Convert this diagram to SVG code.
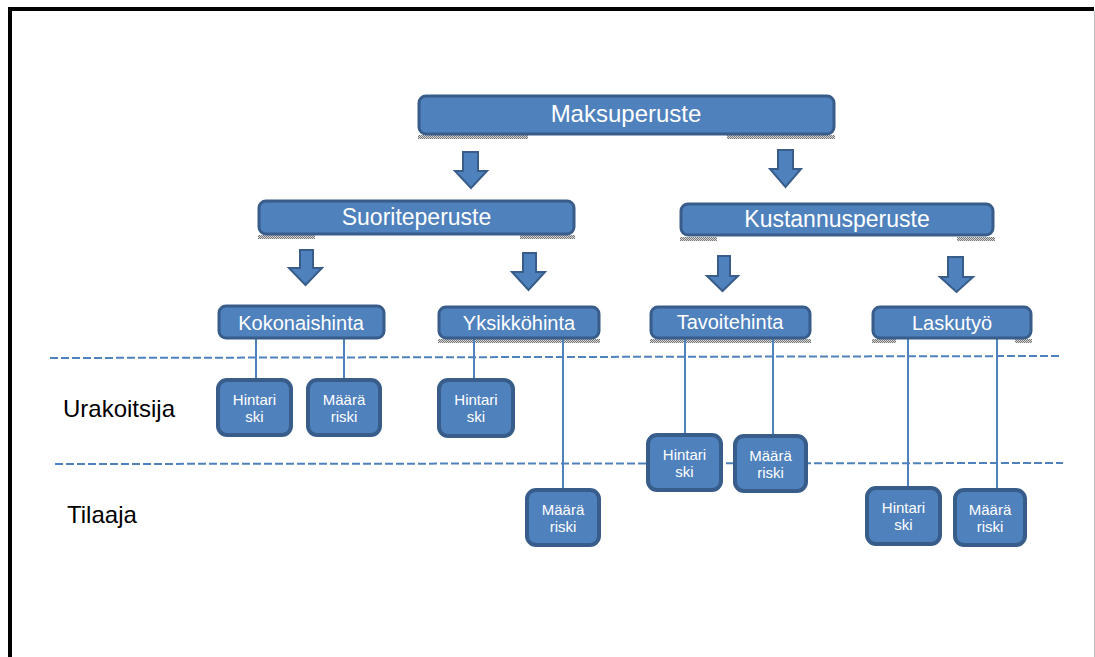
<svg xmlns="http://www.w3.org/2000/svg" width="1095" height="657" viewBox="0 0 1095 657">
<defs>
<pattern id="dots" width="2" height="2" patternUnits="userSpaceOnUse">
<rect width="2" height="2" fill="#d8d8d8"/>
<rect width="1" height="1" fill="#777"/>
<rect x="1" y="1" width="1" height="1" fill="#777"/>
</pattern>
</defs>
<style>
.box{fill:#4F81BD;stroke:#385D8A;stroke-width:3}
.sbox{fill:#4F81BD;stroke:#385D8A;stroke-width:4}
.arrow{fill:#4F81BD;stroke:#385D8A;stroke-width:2;stroke-linejoin:miter}
.conn{stroke:#4F81BD;stroke-width:2;fill:none}
.dash{stroke:#4F81BD;stroke-width:2;stroke-dasharray:8 3;fill:none}
.shadow{fill:url(#dots)}
text{font-family:"Liberation Sans",Arial,sans-serif;fill:#fff;text-anchor:middle}
.big{font-size:23px}
.mid{font-size:20px}
.sm{font-size:15px}
.lbl{fill:#000;text-anchor:start;font-size:24px}
</style>
<rect x="0" y="0" width="1095" height="657" fill="#fff"/>
<g id="frame">
<line x1="10" y1="9" x2="1094" y2="9" stroke="#000" stroke-width="4"/>
<line x1="10" y1="7" x2="10" y2="657" stroke="#000" stroke-width="4"/>
<line x1="1094.5" y1="11" x2="1094.5" y2="657" stroke="#bbb" stroke-width="1"/>
</g>
<g id="shadows">
<rect class="shadow" x="418" y="135" width="110" height="4"/>
<rect class="shadow" x="727" y="135" width="108" height="4"/>
<rect class="shadow" x="258" y="235" width="57" height="4"/>
<rect class="shadow" x="520" y="235" width="55" height="4"/>
<rect class="shadow" x="680" y="237" width="37" height="4"/>
<rect class="shadow" x="957" y="237" width="38" height="4"/>
<rect class="shadow" x="438" y="339" width="162" height="4"/>
<rect class="shadow" x="650" y="339" width="161" height="4"/>
<rect class="shadow" x="872" y="339" width="24" height="4"/>
<rect class="shadow" x="1015" y="339" width="17" height="4"/>
</g>
<g id="dividers">
<line class="dash" x1="50" y1="358" x2="1059" y2="356"/>
<line class="dash" x1="55" y1="464" x2="1063" y2="463"/>
</g>
<g id="connectors">
<path class="arrow" d="M463,152 H478 V171 H487 L471,188 L455,171 H463 Z"/>
<path class="arrow" d="M778,150 H793 V169 H801 L785.5,187 L770,169 H778 Z"/>
<path class="arrow" d="M300,250 H313 V268 H322 L305.5,285 L289,268 H300 Z"/>
<path class="arrow" d="M523,253 H536 V272 H545 L528.5,290 L512,272 H523 Z"/>
<path class="arrow" d="M718,256 H730 V276 H738 L722.5,291 L707,276 H718 Z"/>
<path class="arrow" d="M948,257 H963 V277 H973 L956.5,292 L940,277 H948 Z"/>
<line class="conn" x1="256" y1="338" x2="256" y2="380"/>
<line class="conn" x1="344" y1="338" x2="344" y2="380"/>
<line class="conn" x1="474" y1="338" x2="474" y2="380"/>
<line class="conn" x1="563" y1="338" x2="563" y2="490"/>
<line class="conn" x1="685" y1="338" x2="685" y2="435"/>
<line class="conn" x1="773" y1="338" x2="773" y2="436"/>
<line class="conn" x1="908" y1="338" x2="908" y2="488"/>
<line class="conn" x1="997" y1="338" x2="997" y2="490"/>
</g>
<g id="maksuperuste">
<rect class="box" x="419" y="96" width="415" height="38" rx="7"/>
<text class="big" x="626" y="122" style="font-size:24px">Maksuperuste</text>
</g>
<g id="suoriteperuste">
<rect class="box" x="259" y="201" width="315" height="33" rx="7"/>
<text class="big" x="416.5" y="225">Suoriteperuste</text>
</g>
<g id="kustannusperuste">
<rect class="box" x="681" y="204" width="312" height="31" rx="7"/>
<text class="big" x="837" y="227">Kustannusperuste</text>
</g>
<g id="kokonaishinta">
<rect class="box" x="219" y="306" width="165" height="32" rx="7"/>
<text class="mid" x="301" y="330">Kokonaishinta</text>
</g>
<g id="yksikkohinta">
<rect class="box" x="439" y="307" width="160" height="31" rx="7"/>
<text class="mid" x="519" y="330">Yksikköhinta</text>
</g>
<g id="tavoitehinta">
<rect class="box" x="651" y="307" width="159" height="31" rx="7"/>
<text class="mid" x="730" y="329">Tavoitehinta</text>
</g>
<g id="laskutyo">
<rect class="box" x="873" y="307" width="158" height="31" rx="7"/>
<text class="mid" x="952" y="330">Laskutyö</text>
</g>
<g id="k-hintariski">
<rect class="sbox" x="218" y="380" width="73" height="55" rx="9"/>
<text class="sm" x="254.5" y="405">Hintari</text><text class="sm" x="254.5" y="422">ski</text>
</g>
<g id="k-maarariski">
<rect class="sbox" x="308" y="380" width="72" height="55" rx="9"/>
<text class="sm" x="344" y="405">Määrä</text><text class="sm" x="344" y="422">riski</text>
</g>
<g id="y-hintariski">
<rect class="sbox" x="439" y="380" width="74" height="56" rx="9"/>
<text class="sm" x="476" y="405">Hintari</text><text class="sm" x="476" y="422">ski</text>
</g>
<g id="y-maarariski">
<rect class="sbox" x="527" y="490" width="72" height="55" rx="9"/>
<text class="sm" x="563" y="515">Määrä</text><text class="sm" x="563" y="532">riski</text>
</g>
<g id="t-hintariski">
<rect class="sbox" x="648" y="435" width="73" height="55" rx="9"/>
<text class="sm" x="684.5" y="460">Hintari</text><text class="sm" x="684.5" y="477">ski</text>
</g>
<g id="t-maarariski">
<rect class="sbox" x="735" y="436" width="71" height="55" rx="9"/>
<text class="sm" x="770.5" y="461">Määrä</text><text class="sm" x="770.5" y="478">riski</text>
</g>
<g id="l-hintariski">
<rect class="sbox" x="867" y="488" width="73" height="56" rx="9"/>
<text class="sm" x="903.5" y="513">Hintari</text><text class="sm" x="903.5" y="530">ski</text>
</g>
<g id="l-maarariski">
<rect class="sbox" x="955" y="490" width="70" height="55" rx="9"/>
<text class="sm" x="990" y="515">Määrä</text><text class="sm" x="990" y="532">riski</text>
</g>
<g id="labels">
<text class="lbl" x="63" y="417">Urakoitsija</text>
<text class="lbl" x="67" y="523">Tilaaja</text>
</g>
</svg>
